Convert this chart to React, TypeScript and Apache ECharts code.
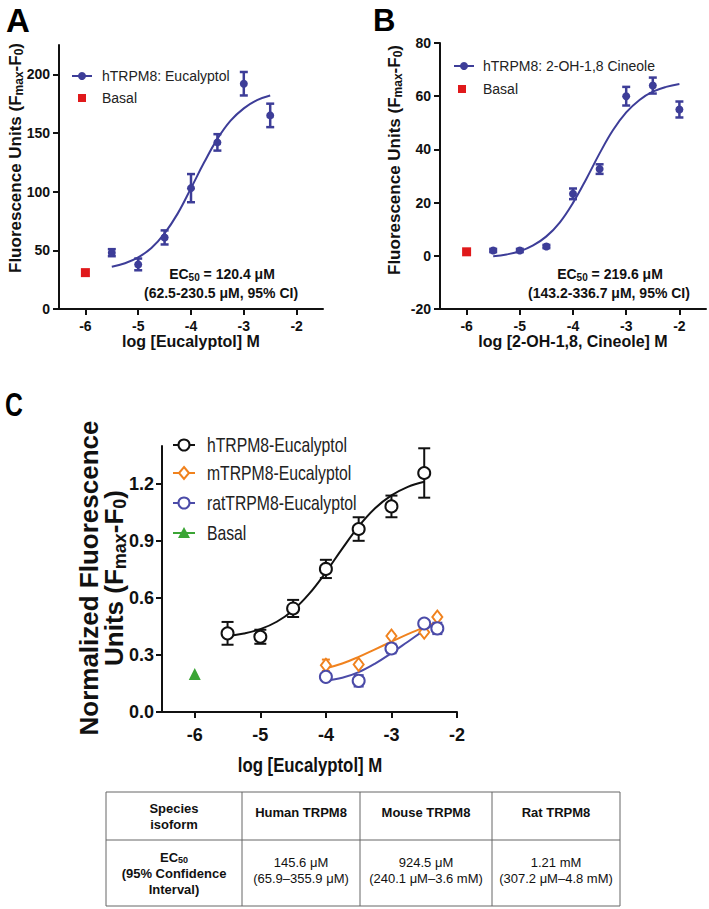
import React, { useEffect, useRef } from "react";
import * as echarts from "echarts";

const FONT = "'Liberation Sans', Arial, Helvetica, sans-serif";

const BLUE = "#3d3d98";
const RED = "#e0191b";
const BLACK = "#111111";
const ORANGE = "#f0821e";
const RATBLUE = "#4b4ba8";
const GREEN = "#3ba535";

// ---------- Panel A: hTRPM8 Eucalyptol ----------
const aX = [-5.5, -5, -4.5, -4, -3.5, -3, -2.5];
const aY = [48, 38, 61, 103, 142, 192, 165];
const aErr = [3, 5, 6, 12, 7, 10, 10];
const aBasalX = [-6];
const aBasalY = [31];
const aFitX = [-5.5, -5.25, -5, -4.75, -4.5, -4.25, -4, -3.75, -3.5, -3.25, -3, -2.75, -2.5];
const aFitY = [36, 39, 44, 52, 64.5, 81.5, 103, 125, 145, 160.5, 171, 178, 182];
const aXTicks = [-6, -5, -4, -3, -2];
const aYTicks = [0, 50, 100, 150, 200];

// ---------- Panel B: hTRPM8 2-OH-1,8 Cineole ----------
const bX = [-5.5, -5, -4.5, -4, -3.5, -3, -2.5, -2];
const bY = [2, 2, 3.5, 23.3, 32.6, 60, 64, 55];
const bErr = [0.6, 0.6, 0.6, 2, 1.8, 3.5, 3, 3];
const bBasalX = [-6];
const bBasalY = [1.5];
const bFitX = [-5.5, -5.25, -5, -4.75, -4.5, -4.25, -4, -3.75, -3.5, -3.25, -3, -2.75, -2.5, -2.25, -2];
const bFitY = [-0.2, 0.5, 1.7, 3.9, 7.3, 12.5, 19.9, 28.9, 38.5, 47.2, 53.9, 58.6, 61.7, 63.5, 64.6];
const bXTicks = [-6, -5, -4, -3, -2];
const bYTicks = [-20, 0, 20, 40, 60, 80];

// ---------- Panel C: species comparison ----------
const hX = [-5.5, -5, -4.5, -4, -3.5, -3, -2.5];
const hY = [0.414, 0.396, 0.545, 0.753, 0.963, 1.082, 1.258];
const hErr = [0.06, 0.037, 0.045, 0.048, 0.062, 0.057, 0.13];
const hFitX = [-5.5, -5.25, -5, -4.75, -4.5, -4.25, -4, -3.75, -3.5, -3.25, -3, -2.75, -2.5];
const hFitY = [0.399, 0.413, 0.436, 0.475, 0.536, 0.624, 0.736, 0.86, 0.977, 1.072, 1.14, 1.185, 1.212];

const mX = [-4, -3.5, -3, -2.5, -2.3];
const mY = [0.246, 0.25, 0.4, 0.42, 0.5];
const mErr = [0.03, 0.01, 0.01, 0.01, 0.01];
const mFitX = [-4, -3.75, -3.5, -3.25, -3, -2.75, -2.5, -2.3];
const mFitY = [0.23, 0.255, 0.29, 0.33, 0.37, 0.41, 0.445, 0.475];

const rX = [-4, -3.5, -3, -2.5, -2.3];
const rY = [0.185, 0.164, 0.334, 0.466, 0.44];
const rErr = [0.015, 0.03, 0.025, 0.01, 0.03];
const rFitX = [-4, -3.75, -3.5, -3.25, -3, -2.75, -2.5, -2.3];
const rFitY = [0.165, 0.18, 0.21, 0.255, 0.31, 0.37, 0.43, 0.47];

const cBasalX = [-6];
const cBasalY = [0.2];
const cXTicks = [-6, -5, -4, -3, -2];
const cYTicks = [0, 0.3, 0.6, 0.9, 1.2];

// ---------- Table ----------
const tableHeaders = ["Human TRPM8", "Mouse TRPM8", "Rat TRPM8"];
const tableEC50 = ["145.6 μM", "924.5 μM", "1.21 mM"];
const tableCI = ["(65.9–355.9 μM)", "(240.1 μM–3.6 mM)", "(307.2 μM–4.8 mM)"];

const zip = (xs: number[], ys: number[]) => xs.map((x, i) => [x, ys[i]]);

function errSeries(xs: number[], ys: number[], es: number[], color: string, cap: number, lw: number, gi: number) {
  return {
    type: "custom",
    xAxisIndex: gi,
    yAxisIndex: gi,
    z: 3,
    silent: true,
    data: xs.map((x, i) => [x, ys[i], es[i]]),
    encode: { x: 0, y: [1] },
    renderItem: (_p: any, api: any) => {
      const x = api.value(0);
      const y = api.value(1);
      const e = api.value(2);
      const t = api.coord([x, y + e]);
      const b = api.coord([x, y - e]);
      const style = { stroke: color, lineWidth: lw, fill: "none" };
      return {
        type: "group",
        children: [
          { type: "line", shape: { x1: t[0], y1: t[1], x2: b[0], y2: b[1] }, style },
          { type: "line", shape: { x1: t[0] - cap, y1: t[1], x2: t[0] + cap, y2: t[1] }, style },
          { type: "line", shape: { x1: b[0] - cap, y1: b[1], x2: b[0] + cap, y2: b[1] }, style },
        ],
      };
    },
  };
}

function xAxisCfg(gi: number, min: number, max: number, ticks: number[], fs: number, margin: number) {
  return {
    type: "value",
    gridIndex: gi,
    min,
    max,
    axisLine: { show: true, onZero: false, lineStyle: { color: BLACK, width: 2 } },
    axisTick: { show: true, length: 6, lineStyle: { color: BLACK, width: 2 }, customValues: ticks },
    axisLabel: { customValues: ticks, fontSize: fs, fontWeight: "bold", fontFamily: FONT, color: "#111", margin },
    splitLine: { show: false },
  };
}

function yAxisCfg(gi: number, min: number, max: number, ticks: number[], fs: number, margin: number, fmt?: (v: number) => string) {
  return {
    type: "value",
    gridIndex: gi,
    min,
    max,
    axisLine: { show: true, onZero: false, lineStyle: { color: BLACK, width: 2 } },
    axisTick: { show: true, length: 6, lineStyle: { color: BLACK, width: 2 }, customValues: ticks },
    axisLabel: { customValues: ticks, fontSize: fs, fontWeight: "bold", fontFamily: FONT, color: "#111", margin, formatter: fmt },
    splitLine: { show: false },
  };
}

function txt(x: number, y: number, text: string, fontSize: number, opts: any = {}) {
  return {
    type: "text",
    x,
    y,
    rotation: opts.rotation || 0,
    scaleX: opts.scaleX || 1,
    silent: true,
    style: {
      text,
      fill: opts.color || "#111",
      fontSize,
      fontWeight: opts.bold ? "bold" : "normal",
      fontFamily: FONT,
      align: opts.align || "center",
      verticalAlign: "middle",
      rich: opts.rich,
    },
  };
}

const subRich = (main: number, sub: number, bold: boolean, lh: number) => ({
  a: { fontSize: main, fontWeight: bold ? "bold" : "normal", fontFamily: FONT, lineHeight: lh, fill: "#111" },
  s: { fontSize: sub, fontWeight: bold ? "bold" : "normal", fontFamily: FONT, lineHeight: sub, verticalAlign: "bottom", fill: "#111" },
});

function buildGraphics() {
  const g: any[] = [];
  // panel letters
  g.push(txt(6, 20, "A", 33, { bold: true, align: "left", color: "#000" }));
  g.push(txt(373, 20, "B", 31, { bold: true, align: "left", color: "#000" }));
  g.push(txt(5, 405, "C", 33, { bold: true, align: "left", color: "#000", scaleX: 0.75 }));

  // y titles A and B
  const yTitle = "{a|Fluorescence Units (F}{s|max}{a|-F}{s|0}{a|)}";
  g.push(txt(15, 158, yTitle, 17, { rotation: Math.PI / 2, rich: subRich(17, 12, true, 20) }));
  g.push(txt(394, 160, yTitle, 17, { rotation: Math.PI / 2, rich: subRich(17, 12, true, 20) }));
  // x titles
  g.push(txt(191, 341, "log [Eucalyptol] M", 16, { bold: true }));
  g.push(txt(573, 341, "log [2-OH-1,8, Cineole] M", 16, { bold: true }));

  // legend A
  g.push({ type: "line", silent: true, shape: { x1: 72, y1: 76, x2: 92, y2: 76 }, style: { stroke: BLUE, lineWidth: 2 } });
  g.push({ type: "circle", silent: true, shape: { cx: 82, cy: 76, r: 4 }, style: { fill: BLUE } });
  g.push(txt(102, 76, "hTRPM8: Eucalyptol", 14, { align: "left", color: "#222" }));
  g.push({ type: "rect", silent: true, shape: { x: 78, y: 94, width: 8, height: 8 }, style: { fill: RED } });
  g.push(txt(102, 98, "Basal", 14, { align: "left", color: "#222" }));

  // legend B
  g.push({ type: "line", silent: true, shape: { x1: 454, y1: 66, x2: 474, y2: 66 }, style: { stroke: BLUE, lineWidth: 2 } });
  g.push({ type: "circle", silent: true, shape: { cx: 464, cy: 66, r: 4 }, style: { fill: BLUE } });
  g.push(txt(483, 66, "hTRPM8: 2-OH-1,8 Cineole", 14, { align: "left", color: "#222" }));
  g.push({ type: "rect", silent: true, shape: { x: 458, y: 85, width: 8, height: 8 }, style: { fill: RED } });
  g.push(txt(483, 89, "Basal", 14, { align: "left", color: "#222" }));

  // EC50 annotations
  const ecRich = subRich(14, 10, true, 16);
  g.push(txt(222, 274, "{a|EC}{s|50}{a| = 120.4 μM}", 14, { rich: ecRich }));
  g.push(txt(221, 293, "(62.5-230.5 μM, 95% CI)", 14, { bold: true }));
  g.push(txt(610, 274, "{a|EC}{s|50}{a| = 219.6 μM}", 14, { rich: ecRich }));
  g.push(txt(609, 293, "(143.2-336.7 μM, 95% CI)", 14, { bold: true }));

  // panel C titles
  g.push(txt(89, 578, "Normalized Fluorescence", 26, { bold: true, rotation: Math.PI / 2 }));
  g.push(txt(114, 578, "{a|Units (F}{s|max}{a|-F}{s|0}{a|)}", 26, { rotation: Math.PI / 2, rich: subRich(26, 18, true, 30) }));
  g.push(txt(310, 765, "log [Eucalyptol] M", 21, { bold: true, scaleX: 0.8 }));

  // legend C
  const legC = [
    { y: 445, color: BLACK, shape: "circle", label: "hTRPM8-Eucalyptol" },
    { y: 473, color: ORANGE, shape: "diamond", label: "mTRPM8-Eucalyptol" },
    { y: 503, color: RATBLUE, shape: "circle", label: "ratTRPM8-Eucalyptol" },
    { y: 533, color: GREEN, shape: "triangle", label: "Basal" },
  ];
  legC.forEach((l) => {
    g.push({ type: "line", silent: true, shape: { x1: 173, y1: l.y, x2: 195, y2: l.y }, style: { stroke: l.color, lineWidth: 2 } });
    if (l.shape === "circle") {
      g.push({ type: "circle", silent: true, shape: { cx: 184, cy: l.y, r: 5.5 }, style: { fill: "#fff", stroke: l.color, lineWidth: 2 } });
    } else if (l.shape === "diamond") {
      g.push({ type: "polygon", silent: true, shape: { points: [[184, l.y - 6], [189, l.y], [184, l.y + 6], [179, l.y]] }, style: { fill: "#fff", stroke: l.color, lineWidth: 2 } });
    } else {
      g.push({ type: "polygon", silent: true, shape: { points: [[184, l.y - 6], [190, l.y + 5], [178, l.y + 5]] }, style: { fill: l.color } });
    }
    g.push(txt(207, l.y, l.label, 21, { align: "left", color: "#222", scaleX: 0.75 }));
  });

  // table
  const tL = 106, tR = 620, tT = 792, tM = 840, tB = 906;
  const cols = [242, 360, 492];
  const lineStyle = { stroke: "#666", lineWidth: 1 };
  g.push({ type: "rect", silent: true, shape: { x: tL, y: tT, width: tR - tL, height: tB - tT }, style: { fill: "none", stroke: "#666", lineWidth: 1 } });
  g.push({ type: "line", silent: true, shape: { x1: tL, y1: tM, x2: tR, y2: tM }, style: lineStyle });
  cols.forEach((c) => g.push({ type: "line", silent: true, shape: { x1: c, y1: tT, x2: c, y2: tB }, style: lineStyle }));
  const centers = [174, 301, 426, 556];
  g.push(txt(centers[0], 808, "Species", 13, { bold: true }));
  g.push(txt(centers[0], 824, "isoform", 13, { bold: true }));
  tableHeaders.forEach((h, i) => g.push(txt(centers[i + 1], 812, h, 13, { bold: true })));
  g.push(txt(centers[0], 857, "{a|EC}{s|50}", 13, { rich: subRich(13, 9, true, 14) }));
  g.push(txt(centers[0], 873, "(95% Confidence", 13, { bold: true }));
  g.push(txt(centers[0], 889, "Interval)", 13, { bold: true }));
  tableEC50.forEach((t, i) => g.push(txt(centers[i + 1], 862, t, 13)));
  tableCI.forEach((t, i) => g.push(txt(centers[i + 1], 878, t, 13)));
  return g;
}

export default function App() {
  const ref = useRef<HTMLDivElement>(null);
  useEffect(() => {
    if (!ref.current) return;
    const chart = echarts.init(ref.current, undefined, { renderer: "svg" });
    const sc = (gi: number, xs: number[], ys: number[], symbol: string, size: any, itemStyle: any) => ({
      type: "scatter",
      xAxisIndex: gi,
      yAxisIndex: gi,
      data: zip(xs, ys),
      symbol,
      symbolSize: size,
      itemStyle: { opacity: 1, ...itemStyle },
      emphasis: { disabled: true },
      z: 5,
    });
    const fit = (gi: number, xs: number[], ys: number[], color: string) => ({
      type: "line",
      xAxisIndex: gi,
      yAxisIndex: gi,
      data: zip(xs, ys),
      smooth: 0.4,
      showSymbol: false,
      lineStyle: { color, width: 2 },
      z: 2,
      silent: true,
    });
    const option: any = {
      animation: false,
      backgroundColor: "#ffffff",
      grid: [
        { left: 59, top: 45, width: 264, height: 264, outerBoundsMode: "none" },
        { left: 440, top: 43, width: 266, height: 266, outerBoundsMode: "none" },
        { left: 162, top: 446, width: 295, height: 266, outerBoundsMode: "none" },
      ],
      xAxis: [
        xAxisCfg(0, -6.5, -1.5, aXTicks, 14, 10),
        xAxisCfg(1, -6.5, -1.5, bXTicks, 14, 10),
        xAxisCfg(2, -6.5, -2, cXTicks, 18, 14),
      ],
      yAxis: [
        yAxisCfg(0, 0, 225, aYTicks, 14, 9),
        yAxisCfg(1, -20, 80, bYTicks, 14, 9),
        yAxisCfg(2, 0, 1.4, cYTicks, 18, 8, (v: number) => v.toFixed(1)),
      ],
      series: [
        // Panel A
        fit(0, aFitX, aFitY, BLUE),
        errSeries(aX, aY, aErr, BLUE, 4, 2.5, 0),
        sc(0, aX, aY, "circle", 8, { color: BLUE }),
        sc(0, aBasalX, aBasalY, "rect", 9, { color: RED }),
        // Panel B
        fit(1, bFitX, bFitY, BLUE),
        errSeries(bX, bY, bErr, BLUE, 4, 2.5, 1),
        sc(1, bX, bY, "circle", 8, { color: BLUE }),
        sc(1, bBasalX, bBasalY, "rect", 9, { color: RED }),
        // Panel C
        fit(2, hFitX, hFitY, BLACK),
        fit(2, mFitX, mFitY, ORANGE),
        fit(2, rFitX, rFitY, RATBLUE),
        errSeries(hX, hY, hErr, BLACK, 6, 2, 2),
        errSeries(mX, mY, mErr, ORANGE, 4, 2, 2),
        errSeries(rX, rY, rErr, RATBLUE, 5, 2, 2),
        sc(2, hX, hY, "circle", 12, { color: "#fff", borderColor: BLACK, borderWidth: 2 }),
        sc(2, mX, mY, "diamond", [10, 13], { color: "#fff", borderColor: ORANGE, borderWidth: 2 }),
        sc(2, rX, rY, "circle", 12, { color: "#fff", borderColor: RATBLUE, borderWidth: 2 }),
        sc(2, cBasalX, cBasalY, "triangle", 12, { color: GREEN }),
      ],
      graphic: buildGraphics(),
    };
    chart.setOption(option);
    return () => chart.dispose();
  }, []);
  return <div ref={ref} style={{ position: "absolute", left: 0, top: 0, width: 709, height: 909, background: "#fff" }} />;
}
